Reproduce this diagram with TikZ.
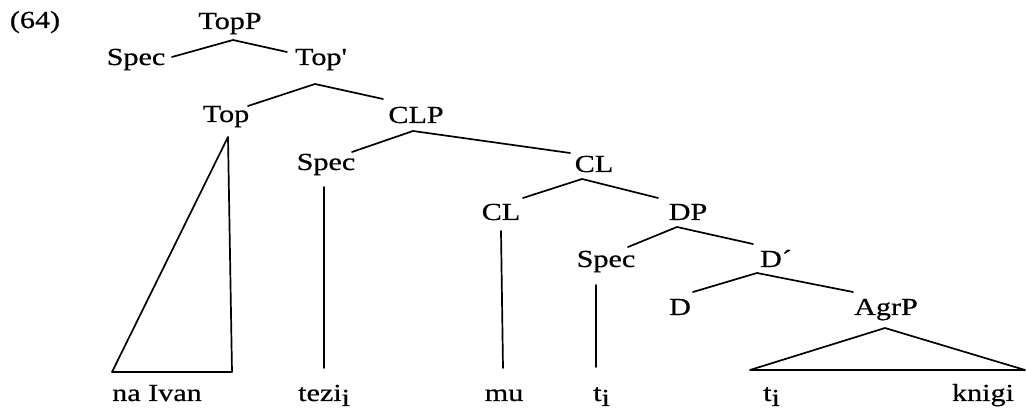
\documentclass[tikz,border=0pt]{standalone}
\usepackage{fontspec}
\setmainfont{Liberation Serif}[FakeStretch=1.23,FakeBold=0.6,Ligatures=TeXOff]
\newcommand{\sbi}{\raisebox{-5pt}{i}}
\begin{document}
\begin{tikzpicture}[x=1pt,y=-1pt,
  lab/.style={anchor=base,inner sep=0pt,font=\fontsize{24.5}{28}\selectfont},
  leaf/.style={lab},
  edge/.style={line width=1.7pt,line cap=round,line join=round}]
\useasboundingbox (0,0) rectangle (1026,411);
% labels
\node[lab] (ex) at (35,28) {(64)};
\node[lab] (topp) at (230,29) {TopP};
\node[lab] (spec1) at (136,65) {Spec};
\node[lab] (topbar) at (321,65) {Top'};
\node[lab] (top) at (226,122) {Top};
\node[lab] (clp) at (416,123) {CLP};
\node[lab] (spec2) at (326,170) {Spec};
\node[lab] (cl1) at (594,172) {CL};
\node[lab] (cl2) at (501,220) {CL};
\node[lab] (dp) at (688,220) {DP};
\node[lab] (spec3) at (606,267) {Spec};
\node[lab] (dbar) at (776,267) {D´};
\node[lab] (d) at (680,315) {D};
\node[lab] (agrp) at (886,315) {AgrP};
% leaves
\node[leaf] (naivan) at (157,401) {na Ivan};
\node[leaf,anchor=base west] (tezi) at (298,401) {tezi\sbi};
\node[leaf] (mu) at (504,401) {mu};
\node[leaf,anchor=base west] (ti1) at (593,401) {t\sbi};
\node[leaf,anchor=base west] (ti2) at (763,401) {t\sbi};
\node[leaf] (knigi) at (983,401) {knigi};
% branches
\draw[edge] ([shift={(36,-8)}]spec1.base) -- ([shift={(3,11)}]topp.base) -- ([shift={(-34,-13)}]topbar.base);
\draw[edge] ([shift={(22,-16)}]top.base) -- ([shift={(-6,19)}]topbar.base) -- ([shift={(-33,-24)}]clp.base);
\draw[edge] ([shift={(26,-18)}]spec2.base) -- ([shift={(-3,8)}]clp.base) -- ([shift={(-24,-19)}]cl1.base);
\draw[edge] ([shift={(22,-22)}]cl2.base) -- ([shift={(-12,7)}]cl1.base) -- ([shift={(-30,-22)}]dp.base);
\draw[edge] ([shift={(22,-20)}]spec3.base) -- ([shift={(-11,7)}]dp.base) -- ([shift={(-23,-23)}]dbar.base);
\draw[edge] ([shift={(13,-23)}]d.base) -- ([shift={(-19,6)}]dbar.base) -- ([shift={(-33,-23)}]agrp.base);
% triangles
\draw[edge] ([shift={(2,15)}]top.base) -- ([shift={(-45,-29)}]naivan.base) -- ([shift={(75,-29)}]naivan.base) -- cycle;
\draw[edge] ([shift={(-1,13)}]agrp.base) -- ([shift={(-13,-31)}]ti2.base west) -- ([shift={(42,-31)}]knigi.base) -- cycle;
% vertical lines
\draw[edge] ([shift={(-2,17)}]spec2.base) -- ([shift={(26,-33)}]tezi.base west);
\draw[edge] ([shift={(0,11)}]cl2.base) -- ([shift={(-1,-33)}]mu.base);
\draw[edge] ([shift={(-10,18)}]spec3.base) -- ([shift={(3,-34)}]ti1.base west);
\end{tikzpicture}
\end{document}
